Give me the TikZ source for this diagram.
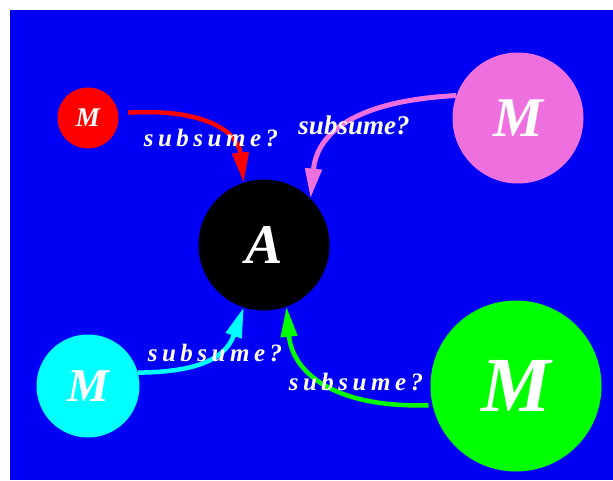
\documentclass[tikz,border=0pt]{standalone}
\usepackage{fontspec}
\setmainfont{Liberation Serif}
\usetikzlibrary{arrows.meta}
\definecolor{bgblue}{RGB}{0,0,245}
\definecolor{mred}{RGB}{255,0,0}
\definecolor{mpink}{RGB}{238,112,222}
\definecolor{mcyan}{RGB}{0,255,255}
\definecolor{mgreen}{RGB}{0,255,0}
\tikzset{
  ball/.style={circle, inner sep=0pt, text=white, font=\bfseries\itshape},
  link/.style={line width=4.5pt, -{Triangle[length=30pt,width=16pt]}},
  lbl/.style={text=white, font=\fontsize{25}{27}\selectfont\bfseries\itshape\addfontfeature{LetterSpace=18}},
  lblplain/.style={text=white, font=\fontsize{27}{29}\selectfont\bfseries\itshape}
}
\begin{document}
\begin{tikzpicture}[x=1pt,y=-1pt]
\useasboundingbox (0,0) rectangle (613,480);
\fill[white] (0,0) rectangle (613,480);
\fill[bgblue] (10,10) rectangle (613,480);

\node[ball, fill=mred, minimum size=61pt, font=\fontsize{27}{29}\selectfont\bfseries\itshape] (r) at (88,118) {M};
\node[ball, fill=mpink, minimum size=131pt, font=\fontsize{56}{60}\selectfont\bfseries\itshape] (p) at (518,118) {M};
\node[ball, fill=black, minimum size=131pt, font=\fontsize{56}{60}\selectfont\bfseries\itshape] (a) at (264,245) {A};
\node[ball, fill=mcyan, minimum size=103pt, font=\fontsize{47}{50}\selectfont\bfseries\itshape] (c) at (88,386) {M};
\node[ball, fill=mgreen, minimum size=171pt, font=\fontsize{78}{82}\selectfont\bfseries\itshape] (g) at (516,386) {M};

\coordinate (rs) at ([xshift=10pt]r.10);
\coordinate (gs) at ([xshift=-4pt]g.193);

\draw[link, mred] (rs) .. controls (200,108) and (238,130) .. (a.108);
\draw[link, mpink, line width=5pt] (p.160) .. controls (370,100) and (318,125) .. (a.45);
\draw[link, mcyan] (c.15) .. controls (195,372) and (225,360) .. (a.252);
\draw[link, mgreen] (gs) .. controls (330,408) and (292,370) .. (a.290);

\node[lbl] (lr) at (211,138) {subsume?};
\node[lblplain] (lp) at (354,125) {subsume?};
\node[lbl] (lc) at (215,353) {subsume?};
\node[lbl] (lg) at (356,382) {subsume?};
\end{tikzpicture}
\end{document}
